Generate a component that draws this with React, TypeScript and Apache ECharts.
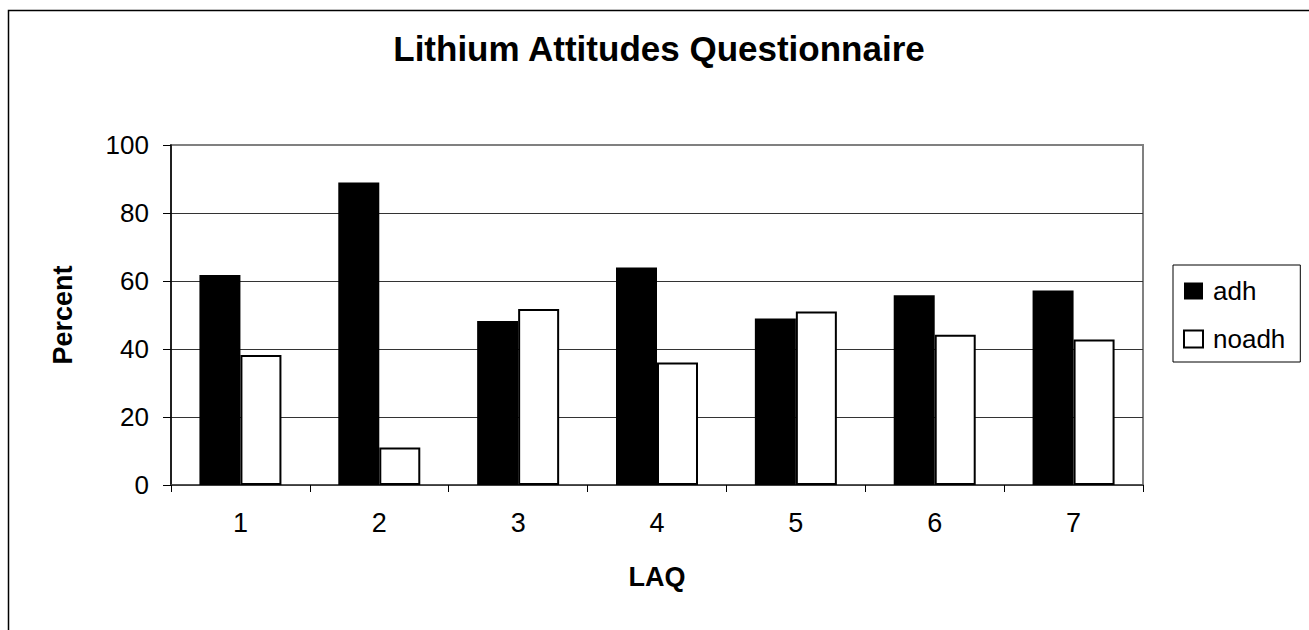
import React, { useEffect, useRef } from "react";
import * as echarts from "echarts";

const categories = ["1", "2", "3", "4", "5", "6", "7"];
const adhValues = [61.8, 89, 48.2, 64, 49, 55.8, 57.2];
const noadhValues = [38.2, 11, 51.8, 36, 51, 44.2, 42.8];
const seriesNames = ["adh", "noadh"];
const titleText = "Lithium Attitudes Questionnaire";
const xName = "LAQ";
const yName = "Percent";

const FONT = "Arial, 'Liberation Sans', Helvetica, sans-serif";

export default function App() {
  const ref = useRef<HTMLDivElement>(null);
  useEffect(() => {
    if (!ref.current) return;
    const chart = echarts.init(ref.current, null, { renderer: "svg" });
    chart.setOption({
      animation: false,
      backgroundColor: "#fff",
      title: {
        text: titleText,
        left: 659,
        top: 31,
        padding: 0,
        textAlign: "center",
        textStyle: { fontFamily: FONT, fontSize: 35, fontWeight: "bold", color: "#000" },
      },
      legend: {
        orient: "vertical",
        left: 1173,
        top: 265,
        padding: [13, 15, 10, 10],
        borderColor: "#000",
        borderWidth: 1,
        itemWidth: 19,
        itemHeight: 17,
        itemGap: 22,
        icon: "rect",
        textStyle: { fontFamily: FONT, fontSize: 26, color: "#000", lineHeight: 26, padding: [0, 0, 0, 5] },
        data: [
          { name: seriesNames[0], itemStyle: { color: "#000", borderWidth: 0 } },
          { name: seriesNames[1], itemStyle: { color: "#fff", borderColor: "#000", borderWidth: 2 } },
        ],
      },
      graphic: [
        {
          type: "rect",
          shape: { x: 8.5, y: 10.5, width: 1400, height: 700 },
          style: { fill: "none", stroke: "#000", lineWidth: 1.5 },
          silent: true,
        },
      ],
      grid: {
        left: 171,
        top: 145,
        width: 972,
        height: 340,
        show: true,
        borderColor: "#808080",
        borderWidth: 2,
      },
      xAxis: {
        type: "category",
        data: categories,
        name: xName,
        nameLocation: "middle",
        nameGap: 78,
        nameTextStyle: { fontFamily: FONT, fontSize: 27, fontWeight: "bold", color: "#000" },
        axisLine: { show: true, lineStyle: { color: "#404040", width: 1.5 } },
        axisTick: { show: true, alignWithLabel: false, length: 7, lineStyle: { color: "#000", width: 1 } },
        axisLabel: { fontFamily: FONT, fontSize: 27, color: "#000", margin: 24 },
        splitLine: { show: false },
      },
      yAxis: {
        type: "value",
        min: 0,
        max: 100,
        interval: 20,
        name: yName,
        nameLocation: "middle",
        nameRotate: 90,
        nameGap: 95,
        nameTextStyle: { fontFamily: FONT, fontSize: 27, fontWeight: "bold", color: "#000" },
        axisLine: { show: true, lineStyle: { color: "#000", width: 1.5 } },
        axisTick: { show: true, inside: false, length: 8, lineStyle: { color: "#000", width: 1 } },
        axisLabel: { fontFamily: FONT, fontSize: 26, color: "#000", margin: 22 },
        splitLine: { show: true, showMaxLine: false, lineStyle: { color: "#333", width: 1 } },
      },
      series: [
        {
          name: seriesNames[0],
          type: "bar",
          data: adhValues,
          barWidth: 41,
          barGap: "0%",
          itemStyle: { color: "#000" },
        },
        {
          name: seriesNames[1],
          type: "bar",
          data: noadhValues,
          barWidth: 41,
          barGap: "0%",
          itemStyle: { color: "#fff", borderColor: "#000", borderWidth: 2 },
        },
      ],
    });
    return () => chart.dispose();
  }, []);
  return (
    <div
      ref={ref}
      style={{ position: "absolute", left: 0, top: 0, width: 1309, height: 630 }}
    />
  );
}
